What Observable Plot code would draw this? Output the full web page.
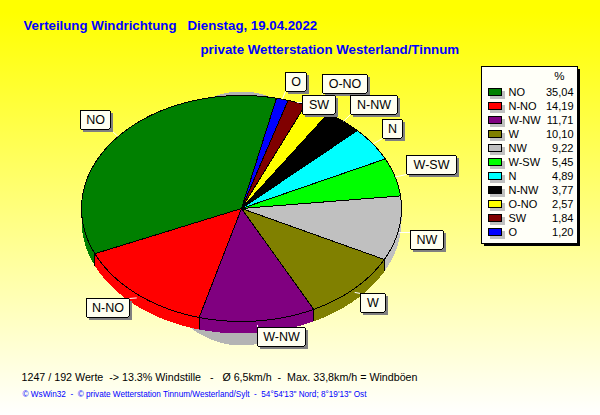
<!DOCTYPE html>
<html><head><meta charset="utf-8">
<script src="https://cdn.jsdelivr.net/npm/d3@7"></script>
<script src="https://cdn.jsdelivr.net/npm/@observablehq/plot@0.6"></script>
<style>
html,body{margin:0;padding:0;width:600px;height:415px;overflow:hidden;background:linear-gradient(180deg,#ffff00 0%,#ffff00 3%,#ffffff 100%)}
svg{display:block}
</style></head><body><div id="c"></div>
<script>
const directions = ["NO","N-NO","W-NW","W","NW","W-SW","N","N-NW","O-NO","SW","O"];
const percents = [35.04,14.19,11.71,10.10,9.22,5.45,4.89,3.77,2.57,1.84,1.20];
const percentLabels = ["35,04","14,19","11,71","10,10","9,22","5,45","4,89","3,77","2,57","1,84","1,20"];
const colors = ["#008000","#ff0000","#800080","#808000","#c0c0c0","#00ff00","#00ffff","#000000","#ffff00","#800000","#0000ff"];
const titleLines = ["Verteilung Windrichtung\u00a0\u00a0\u00a0Dienstag, 19.04.2022","private Wetterstation Westerland/Tinnum"];
const statsLine = "1247 / 192 Werte\u00a0\u00a0-> 13.3% Windstille\u00a0\u00a0\u00a0-\u00a0\u00a0\u00a0Ø 6,5km/h\u00a0\u00a0-\u00a0\u00a0Max. 33,8km/h = Windböen";
const creditLine = "© WsWin32\u00a0\u00a0-\u00a0\u00a0© private Wetterstation Tinnum/Westerland/Sylt\u00a0\u00a0-\u00a0\u00a054°54'13\" Nord; 8°19'13\" Ost";
// label box layout [left, top, width] in the order of directions
const labelBoxes = [[80,110,30],[86,298,43],[257,327,48],[360,293,25],[410,230,33],[406,155,50],[382,119,20],[350,95,47],[322,74,45],[302,95,33],[285,72,21]];

const cx=241, cy=208, rx=160, ry=113, depth=12, startDeg=12.6;
const rad=d=>d*Math.PI/180;
const edge=(deg,dy=0)=>({x:cx+rx*Math.sin(rad(deg)),y:cy-ry*Math.cos(rad(deg))+dy});
const total=d3.sum(percents);
let acc=startDeg;
const slices=directions.map((name,i)=>{const a0=acc,a1=acc-percents[i]/total*360;acc=a1;return{name,i,a0,a1,mid:(a0+a1)/2,color:colors[i]};});
const arc=(a0,a1,dy=0)=>{const n=Math.max(2,Math.ceil(Math.abs(a1-a0)));return d3.range(n+1).map(k=>edge(a0+(a1-a0)*k/n,dy));};

const marks=[];
const line=(pts,o)=>Plot.line(pts,{x:"x",y:"y",...o});
// shadow under the pie
marks.push(line(arc(0,360).map(p=>({x:cx+(p.x-cx)*100/rx,y:218+(p.y-cy)*127/ry})),{fill:"#b4b4b4",stroke:"none",shapeRendering:"crispEdges"}));
// side walls (lower half only)
const separators=[];
for(const s of slices){
  const lo=s.a1, hi=s.a0;
  for(const [a,b] of [[-270,-90],[90,270]]){
    const from=Math.max(lo,a), to=Math.min(hi,b);
    if(to<=from) continue;
    const top=arc(from,to),bot=arc(from,to,depth).reverse();
    marks.push(line([...top,...bot,top[0]],{fill:s.color,stroke:"none",shapeRendering:"crispEdges"}));
  }
  if(Math.cos(rad(s.a1))<0) separators.push(edge(s.a1));
}
marks.push(Plot.link(separators,{x1:"x",y1:"y",x2:"x",y2:d=>d.y+depth,stroke:"#000",strokeWidth:1,shapeRendering:"crispEdges"}));
// top faces
for(const s of slices){
  marks.push(line([{x:cx,y:cy},...arc(s.a0,s.a1),{x:cx,y:cy}],{fill:s.color,stroke:"#000",strokeWidth:1,shapeRendering:"crispEdges"}));
}
// labels
const boxes=slices.map(s=>{const [l,t,w]=labelBoxes[s.i];const e=edge(s.mid,Math.cos(rad(s.mid))<0?4:0);return{name:s.name,x1:l,x2:l+w,y1:t,y2:t+19,ex:e.x,ey:e.y};});
marks.push(Plot.link(boxes,{x1:"ex",y1:"ey",x2:d=>Math.max(d.x1,Math.min(d.x2,d.ex)),y2:d=>Math.max(d.y1,Math.min(d.y2,d.ey)),stroke:"#fff",strokeWidth:1}));
marks.push(Plot.rect(boxes,{x1:d=>d.x1+3,x2:d=>d.x2+3,y1:d=>d.y1+3,y2:d=>d.y2+3,fill:"#808080",inset:0}));
marks.push(Plot.rect(boxes,{x1:"x1",x2:"x2",y1:"y1",y2:"y2",fill:"#fffff0",stroke:"#000",rx:1,inset:0,shapeRendering:"crispEdges"}));
const font={fontFamily:"Liberation Sans, Arial, sans-serif"};
marks.push(Plot.text(boxes,{x:d=>(d.x1+d.x2)/2,y:d=>(d.y1+d.y2)/2,text:"name",fontSize:12.5,fill:"#000",...font}));
// legend
const lg={x1:481,x2:577,y1:66,y2:243,first:92,step:14};
marks.push(Plot.rect([lg],{x1:d=>d.x1+3,x2:d=>d.x2+3,y1:d=>d.y1+3,y2:d=>d.y2+3,fill:"#000",inset:0}));
marks.push(Plot.rect([lg],{x1:"x1",x2:"x2",y1:"y1",y2:"y2",fill:"#fffff8",stroke:"#000",inset:0,shapeRendering:"crispEdges"}));
const rows=directions.map((name,i)=>({name,v:percentLabels[i],color:colors[i],y:lg.first+i*lg.step}));
marks.push(Plot.rect(rows,{x1:490,x2:505,y1:d=>d.y-1,y2:d=>d.y+7,fill:"#c0c0c0",inset:0}));
marks.push(Plot.rect(rows,{x1:488,x2:501,y1:d=>d.y-4,y2:d=>d.y+3,fill:"color",stroke:"#000",inset:0,shapeRendering:"crispEdges"}));
marks.push(Plot.text(rows,{x:508,y:"y",text:"name",textAnchor:"start",fontSize:11,fill:"#000",...font}));
marks.push(Plot.text(rows,{x:573,y:"y",text:"v",textAnchor:"end",fontSize:11,fill:"#000",...font}));
marks.push(Plot.text(["%"],{x:564,y:76,text:d=>d,textAnchor:"end",fontSize:11.5,fill:"#000",...font}));
// titles and footers
marks.push(Plot.text([titleLines[0]],{x:23,y:25,text:d=>d,textAnchor:"start",fontSize:13.25,fontWeight:"bold",fill:"#0000ff",...font}));
marks.push(Plot.text([titleLines[1]],{x:200,y:49,text:d=>d,textAnchor:"start",fontSize:13.3,fontWeight:"bold",fill:"#0000ff",...font}));
marks.push(Plot.text([statsLine],{x:21,y:377,text:d=>d,textAnchor:"start",fontSize:10.7,fill:"#000",...font}));
marks.push(Plot.text([creditLine],{x:22,y:394,text:d=>d,textAnchor:"start",fontSize:8.2,fill:"#0000ff",...font}));

document.getElementById("c").append(Plot.plot({
  width:600,height:415,margin:0,
  x:{domain:[0,600],range:[0,600],axis:null},
  y:{domain:[0,415],range:[0,415],axis:null},
  style:{background:"transparent",overflow:"visible"},
  marks
}));
</script></body></html>
